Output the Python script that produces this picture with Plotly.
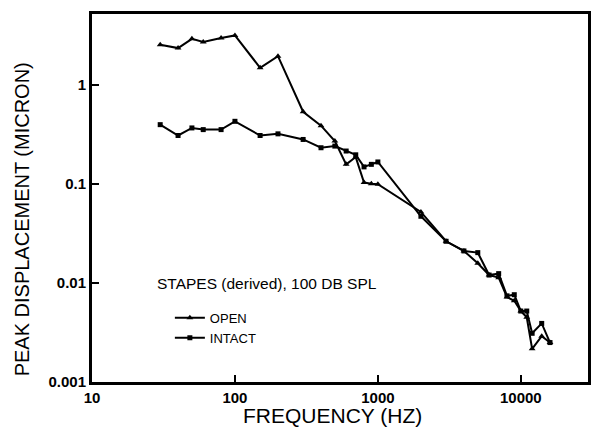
import plotly.graph_objects as go

freq = [30, 40, 50, 60, 80, 100, 150, 200, 300, 400, 500, 600, 700, 800, 900, 1000,
        2000, 3000, 4000, 5000, 6000, 7000, 8000, 9000, 10000, 11000, 12000, 14000, 16000]
open_vals = [2.53, 2.34, 2.9, 2.69, 2.95, 3.14, 1.48, 1.94, 0.533, 0.386, 0.27, 0.157, 0.186,
             0.103, 0.10, 0.099, 0.052, 0.0263, 0.021, 0.0158, 0.012, 0.0113, 0.0072, 0.0066,
             0.0052, 0.0045, 0.00216, 0.0029, 0.0025]
intact_vals = [0.395, 0.307, 0.366, 0.352, 0.352, 0.427, 0.307, 0.319, 0.28, 0.231, 0.24, 0.214,
               0.196, 0.148, 0.157, 0.166, 0.047, 0.0263, 0.021, 0.0202, 0.012, 0.0124, 0.0074,
               0.0076, 0.0052, 0.0052, 0.0031, 0.0039, 0.0025]

x_major = [10, 100, 1000, 10000]
x_major_text = ["10", "100", "1000", "10000"]
y_major = [0.001, 0.01, 0.1, 1]
y_major_text = ["0.001", "0.01", "0.1", "1"]

FONT = "Liberation Sans, Arial, sans-serif"

fig = go.Figure()
fig.add_trace(go.Scatter(x=freq, y=open_vals, mode="lines+markers", name="OPEN",
                         line=dict(color="black", width=2),
                         marker=dict(symbol="triangle-up", size=6, color="black")))
fig.add_trace(go.Scatter(x=freq, y=intact_vals, mode="lines+markers", name="INTACT",
                         line=dict(color="black", width=2),
                         marker=dict(symbol="square", size=5, color="black")))

fig.update_xaxes(type="log", range=[1, 4.47], showline=True, linecolor="#000000", linewidth=3,
                 mirror=True, ticks="inside", ticklen=7, tickwidth=2, tickcolor="#000000",
                 tickvals=x_major, ticktext=["<b>%s</b>" % t for t in x_major_text],
                 showgrid=False,
                 tickfont=dict(family=FONT, size=15, color="black"))
fig.update_yaxes(type="log", range=[-3, 0.713], showline=True, linecolor="#000000", linewidth=3,
                 mirror=True, ticks="inside", ticklen=7, tickwidth=2, tickcolor="#000000",
                 tickvals=y_major, ticktext=["<b>%s</b>" % t for t in y_major_text],
                 showgrid=False,
                 tickfont=dict(family=FONT, size=15, color="black"))

fig.add_annotation(text="FREQUENCY (HZ)", xref="paper", yref="paper", x=0.484, y=0,
                   yshift=-33, xanchor="center", yanchor="middle", showarrow=False,
                   font=dict(family=FONT, size=21, color="black"))
fig.add_annotation(text="PEAK DISPLACEMENT (MICRON)", xref="paper", yref="paper", x=0, y=0.442,
                   xshift=-70, xanchor="center", yanchor="middle", textangle=-90,
                   showarrow=False, font=dict(family=FONT, size=20, color="black"))
fig.add_annotation(text="STAPES (derived), 100 DB SPL", xref="paper", yref="paper",
                   x=0.128, y=0.267, xanchor="left", yanchor="middle", showarrow=False,
                   font=dict(family=FONT, size=15.5, color="black"))

fig.update_layout(
    width=592, height=436,
    margin=dict(l=84, r=12, t=3, b=62),
    paper_bgcolor="white", plot_bgcolor="white",
    showlegend=True,
    legend=dict(x=0.157, y=0.215, xanchor="left", yanchor="top", bgcolor="rgba(0,0,0,0)",
                font=dict(family=FONT, size=13, color="black")),
)

fig.write_html("out.html")
